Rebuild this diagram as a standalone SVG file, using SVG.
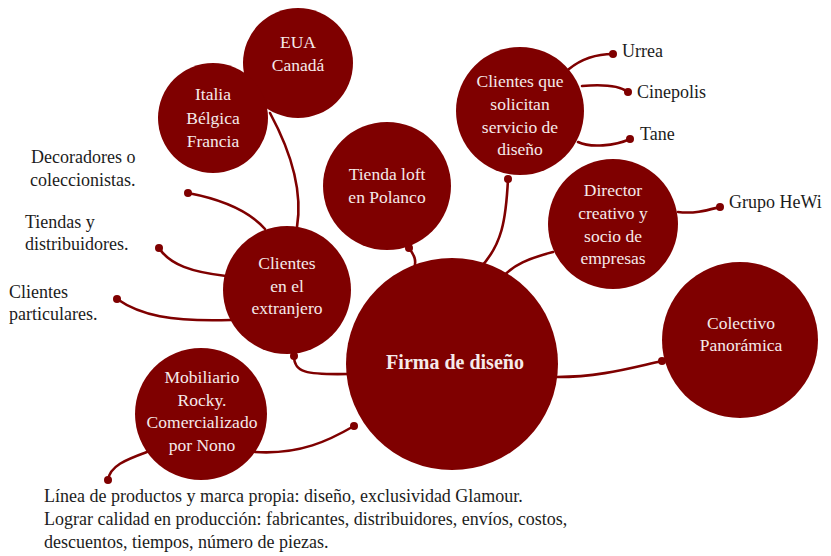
<svg xmlns="http://www.w3.org/2000/svg" width="831" height="556" viewBox="0 0 831 556">
  <style>
    .node circle { fill: #7f0000; }
    .node text { fill: #f5eaea; font-family: "Liberation Serif", "DejaVu Serif", serif; font-size: 17.5px; text-anchor: middle; }
    .node text.main { font-size: 20px; font-weight: bold; }
    .label { fill: #1c1c1c; font-family: "Liberation Serif", "DejaVu Serif", serif; font-size: 18px; }
    .edges path { fill: none; stroke: #7f0000; stroke-width: 2.6; stroke-linecap: round; }
    .edges circle { fill: #7f0000; }
  </style>
  <rect width="831" height="556" fill="#ffffff"/>

  <!-- connectors -->
  <g class="edges">
    <path d="M270,113 C290,150 303,190 297,227"/>
    <path d="M188,193 C225,200 250,212 265,229"/>
    <path d="M159,248 C170,265 192,272 226,276"/>
    <path d="M117,299 C140,315 170,322 231,320"/>
    <path d="M294,356 C294,372 305,375 349,374"/>
    <path d="M409,248 C414,255 417,260 414,269"/>
    <path d="M508,179 C506,220 502,245 480,268"/>
    <path d="M569,69 C585,56 600,54 613,54"/>
    <path d="M582,86 C605,84 620,86 628,92"/>
    <path d="M578,142 C590,148 615,146 630,139"/>
    <path d="M553,252 C530,258 512,265 502,278"/>
    <path d="M678,212 C695,214 708,210 720,207"/>
    <path d="M557,377 C600,377 630,368 662,361"/>
    <path d="M255,452 C300,455 330,440 354,426"/>
    <path d="M147,452 C125,460 110,466 108,480"/>
    <circle cx="188" cy="193" r="4"/>
    <circle cx="159" cy="248" r="4"/>
    <circle cx="117" cy="299" r="4"/>
    <circle cx="294" cy="356" r="4"/>
    <circle cx="409" cy="248" r="4"/>
    <circle cx="508" cy="179" r="4"/>
    <circle cx="613" cy="54" r="4"/>
    <circle cx="628" cy="92" r="4"/>
    <circle cx="630" cy="139" r="4"/>
    <circle cx="720" cy="207" r="4"/>
    <circle cx="662" cy="361" r="4"/>
    <circle cx="354" cy="426" r="4"/>
    <circle cx="108" cy="480" r="4"/>
  </g>

  <!-- nodes -->
  <g id="eua" class="node">
    <circle cx="298" cy="63" r="55"/>
    <text x="298" y="48">EUA</text>
    <text x="298" y="71">Canadá</text>
  </g>
  <g id="italia" class="node">
    <circle cx="213" cy="118" r="55"/>
    <text x="213" y="100">Italia</text>
    <text x="213" y="124">Bélgica</text>
    <text x="213" y="147">Francia</text>
  </g>
  <g id="tienda" class="node">
    <circle cx="387" cy="186" r="64"/>
    <text x="387" y="180">Tienda loft</text>
    <text x="387" y="203">en Polanco</text>
  </g>
  <g id="extranjero" class="node">
    <circle cx="287" cy="290" r="64"/>
    <text x="287" y="269">Clientes</text>
    <text x="287" y="292">en el</text>
    <text x="287" y="314">extranjero</text>
  </g>
  <g id="firma" class="node">
    <circle cx="452" cy="364" r="106"/>
    <text class="main" x="455" y="369">Firma de diseño</text>
  </g>
  <g id="servicio" class="node">
    <circle cx="520" cy="111" r="64"/>
    <text x="520" y="87">Clientes que</text>
    <text x="520" y="110">solicitan</text>
    <text x="520" y="133">servicio de</text>
    <text x="520" y="155">diseño</text>
  </g>
  <g id="director" class="node">
    <circle cx="613" cy="224" r="65"/>
    <text x="613" y="196">Director</text>
    <text x="613" y="219">creativo y</text>
    <text x="613" y="242">socio de</text>
    <text x="613" y="264">empresas</text>
  </g>
  <g id="colectivo" class="node">
    <circle cx="740" cy="340" r="78"/>
    <text x="741" y="329">Colectivo</text>
    <text x="741" y="351">Panorámica</text>
  </g>
  <g id="mobiliario" class="node">
    <circle cx="201" cy="414" r="66"/>
    <text x="202" y="383">Mobiliario</text>
    <text x="202" y="406">Rocky.</text>
    <text x="202" y="428">Comercializado</text>
    <text x="202" y="451">por Nono</text>
  </g>

  <!-- leaf labels -->
  <g id="decoradores">
    <text class="label" x="31" y="163">Decoradores o</text>
    <text class="label" x="30" y="186">coleccionistas.</text>
  </g>
  <g id="tiendas">
    <text class="label" x="25" y="228">Tiendas y</text>
    <text class="label" x="25" y="250">distribuidores.</text>
  </g>
  <g id="particulares">
    <text class="label" x="9" y="298">Clientes</text>
    <text class="label" x="9" y="320">particulares.</text>
  </g>
  <g id="urrea"><text class="label" x="622" y="57">Urrea</text></g>
  <g id="cinepolis"><text class="label" x="637" y="98">Cinepolis</text></g>
  <g id="tane"><text class="label" x="640" y="140">Tane</text></g>
  <g id="hewi"><text class="label" x="729" y="208">Grupo HeWi</text></g>
  <g id="productos">
    <text class="label" x="44" y="502">Línea de productos y marca propia: diseño, exclusividad Glamour.</text>
    <text class="label" x="44" y="525">Lograr calidad en producción: fabricantes, distribuidores, envíos, costos,</text>
    <text class="label" x="44" y="548">descuentos, tiempos, número de piezas.</text>
  </g>
</svg>
